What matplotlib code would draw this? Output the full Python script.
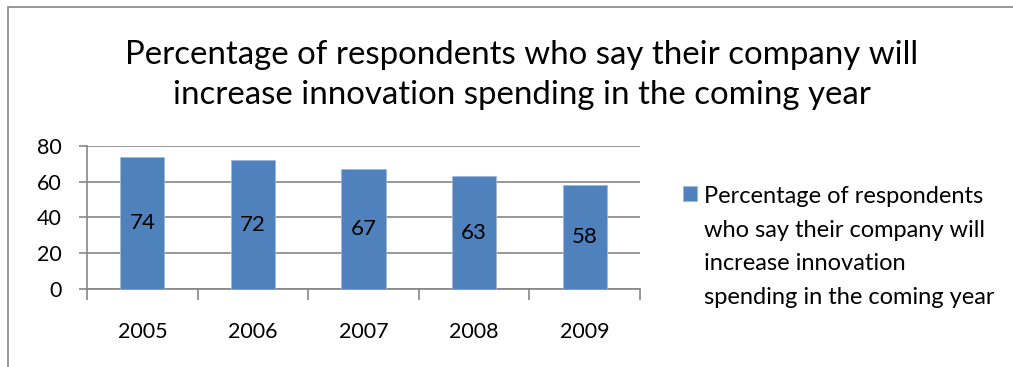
import numpy as np
import matplotlib.pyplot as plt
from matplotlib.patches import Rectangle

plt.rcParams['font.family'] = ['Lato', 'DejaVu Sans']

# Data
years = ['2005', '2006', '2007', '2008', '2009']
values = [74, 72, 67, 63, 58]
series_name = 'Percentage of respondents\nwho say their company will\nincrease innovation\nspending in the coming year'
title = 'Percentage of respondents who say their company will\nincrease innovation spending in the coming year'

bar_color = '#4F81BD'
grid_color = '#868686'

fig = plt.figure(figsize=(10.13, 3.67), dpi=100)
ax = fig.add_axes([0.0859, 0.2125, 0.546, 0.39])

x = np.arange(len(years))
bars = ax.bar(x, values, width=0.4, color=bar_color, edgecolor='#9fb9dc', linewidth=0.6,
              zorder=3, label=series_name)
for b, v in zip(bars, values):
    ax.text(b.get_x() + b.get_width() / 2, v / 2, str(v), ha='center', va='center',
            fontsize=16, color='black', zorder=4)

ax.set_xlim(-0.5, len(years) - 0.5)
ax.set_ylim(0, 80)
ax.set_yticks([0, 20, 40, 60, 80])
ax.yaxis.grid(True, color=grid_color, linewidth=1.2, zorder=0)
ax.set_axisbelow(True)

for s in ['top', 'right']:
    ax.spines[s].set_visible(False)
for s in ['left', 'bottom']:
    ax.spines[s].set_color(grid_color)
    ax.spines[s].set_linewidth(1.2)

ax.set_xticks(x)
ax.set_xticklabels(years)
ax.set_xticks(np.arange(-0.5, len(years)), minor=True)
ax.tick_params(axis='x', which='major', length=0, pad=24, labelsize=15.5)
ax.tick_params(axis='x', which='minor', length=8, color=grid_color, width=1.2)
ax.tick_params(axis='y', length=6, color=grid_color, width=1.2, labelsize=15.5, pad=12)

fig.text(0.515, 0.795, title, ha='center', va='center', fontsize=23.8, linespacing=1.4)

leg = fig.legend(handles=[bars], labels=[series_name], loc='center left',
                 bbox_to_anchor=(0.674, 0.327), frameon=False, fontsize=17,
                 borderpad=0, borderaxespad=0,
                 handlelength=0.6, handleheight=0.6, handletextpad=0.3, labelspacing=0.2)
for t in leg.get_texts():
    t.set_linespacing(1.75)
# marker next to the first line of the label, like Excel does
for col in leg._legend_handle_box.get_children():
    for item in col.get_children():
        item.align = 'top'

fig.patches.append(Rectangle((8 / 1013, -0.1), 1.2, 1 - 7 / 367 + 0.1, transform=fig.transFigure,
                             fill=False, edgecolor='#868686', linewidth=1.2))

fig.savefig('out.png', dpi=100)
